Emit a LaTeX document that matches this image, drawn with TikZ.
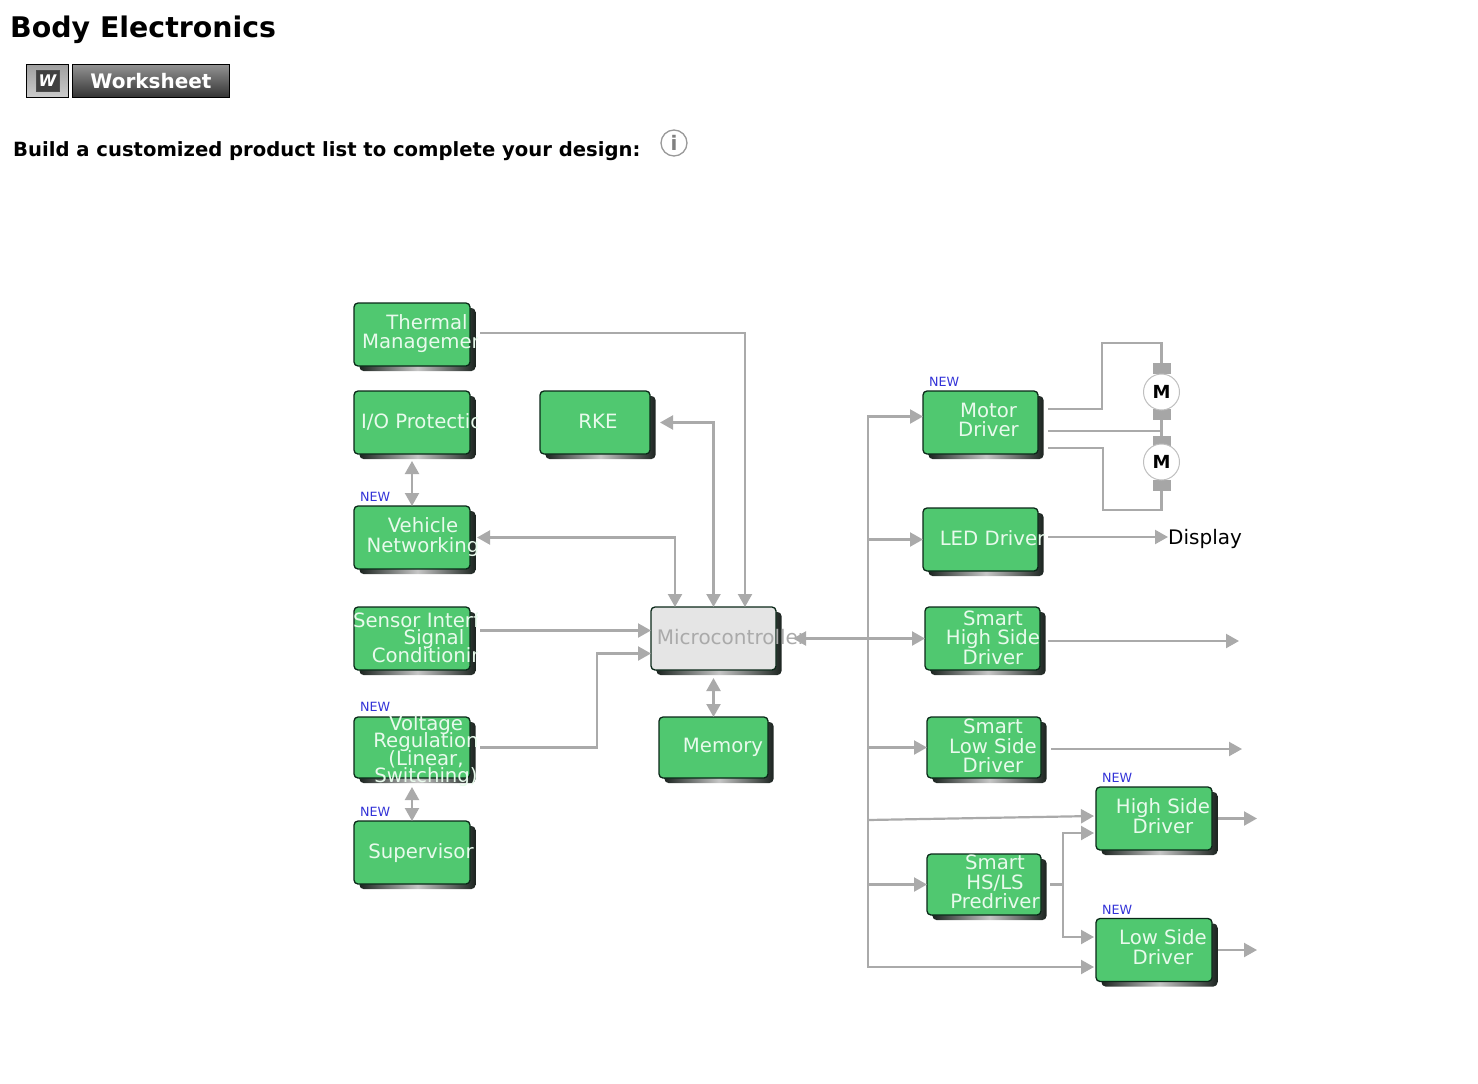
\documentclass[tikz,border=0pt]{standalone}
\usepackage{fontspec}
\setmainfont{DejaVu Sans}
\usetikzlibrary{arrows.meta, positioning}
\definecolor{blockgreen}{RGB}{80,200,112}
\definecolor{blockline}{RGB}{10,40,24}
\definecolor{shadowdark}{RGB}{28,36,32}
\definecolor{microgray}{RGB}{229,229,229}
\definecolor{wiregray}{RGB}{170,170,170}
\definecolor{labelgreen}{RGB}{232,250,236}
\definecolor{newblue}{RGB}{50,50,215}
\setlength{\lineskiplimit}{-20pt}
\setlength{\normallineskiplimit}{-20pt}

\begin{document}
\begin{tikzpicture}[x=1pt, y=-1pt,
    node distance=25pt,
    block/.style={rectangle, rounded corners=4pt, draw=blockline, line width=1.3pt, fill=blockgreen, minimum width=116pt, minimum height=63pt, outer sep=0pt, inner sep=0pt,
      preaction={draw=none, left color=shadowdark, right color=shadowdark, middle color=gray!45, transform canvas={xshift=5.5pt, yshift=-5pt}}},
    blocktext/.style={align=center, inner sep=0pt, text=labelgreen, font=\fontsize{19.7}{19.5}\selectfont},
    tighttext/.style={blocktext, font=\fontsize{19.7}{17.5}\selectfont},
    newtag/.style={anchor=south west, inner sep=0pt, text=newblue, font=\fontsize{12.7}{13}\selectfont},
    wire/.style={draw=wiregray, line width=2.2pt},
    arrow/.style={wire, -{Triangle[length=13pt,width=14pt]}},
    twoway/.style={wire, {Triangle[length=13pt,width=14pt]}-{Triangle[length=13pt,width=14pt]}},
    motorcap/.style={rectangle, fill=gray!70, minimum width=18pt, minimum height=11pt, inner sep=0pt, outer sep=0pt},
    motorbody/.style={circle, draw=gray!50, line width=1pt, fill=white, minimum size=36pt, inner sep=0pt, font=\bfseries\fontsize{18}{18}\selectfont}
]
\useasboundingbox (0,0) rectangle (1478,1084);

% Page header
\node[anchor=west, inner sep=0pt, font=\bfseries\fontsize{28.4}{30}\selectfont] (title) at (10,29.5) {Body Electronics};
\node[rectangle, draw=black, line width=1.2pt, top color=gray!75, bottom color=gray!40, minimum width=42pt, minimum height=33pt, inner sep=0pt] (wordbtn) at (47.5,81) {};
\node[rectangle, draw=black!70, fill=black!75, minimum width=23pt, minimum height=21pt, inner sep=0pt, text=white, font=\bfseries\itshape\fontsize{16}{16}\selectfont] (wordicon) at (wordbtn) {W};
\node[rectangle, draw=black, line width=1.2pt, top color=gray!85, bottom color=black!80, minimum width=157pt, minimum height=33pt, inner sep=0pt, text=white, font=\bfseries\fontsize{20}{20}\selectfont] (worksheet) at (151,81) {Worksheet};
\node[anchor=west, inner sep=0pt, font=\bfseries\fontsize{19.6}{22}\selectfont] (buildline) at (13,151) {Build a customized product list to complete your design:};
\node[circle, draw=gray!80, line width=1.3pt, minimum size=26pt, inner sep=0pt, text=gray, font=\bfseries\fontsize{20}{20}\selectfont] (info) at (674,143) {i};

% Left column, its long labels are cut off at the shadow
\begin{scope}
\clip (340,290) rectangle (477,900);
\node[block] (thermal) at (412,334.5) {};
\node[blocktext, xshift=15pt, yshift=1pt] (thermaltext) at (thermal) {Thermal\\Management};
\node[block, below=of thermal] (protect) {};
\node[blocktext, xshift=16pt, yshift=1pt] (protecttext) at (protect) {I/O Protection};
\node[block, below=52pt of protect] (network) {};
\node[blocktext, xshift=11pt, yshift=0.5pt] (networktext) at (network) {Vehicle\\Networking};
\node[block, below=38pt of network] (sensor) {};
\node[tighttext, xshift=22pt, yshift=-1pt] (sensortext) at (sensor) {Sensor Interface\\Signal\hspace*{24pt}\\Conditioning};
\node[block, below=47pt of sensor, minimum height=61pt] (voltage) {};
\node[tighttext, xshift=14pt, yshift=-3.5pt] (voltagetext) at (voltage) {Voltage\\Regulation\\(Linear,\\Switching)};
\node[block, below=43pt of voltage] (supervisor) {};
\node[blocktext, xshift=9pt, yshift=-0.5pt] (supervisortext) at (supervisor) {Supervisor};
\end{scope}

% Middle column
\node[block, minimum width=110pt] (rke) at (595,422.5) {};
\node[blocktext, xshift=3pt, yshift=1pt] (rketext) at (rke) {RKE};
\node[block, minimum width=125pt, fill=microgray] (micro) at (713.5,638.5) {};
\node[blocktext, text=wiregray, xshift=18pt, yshift=1.5pt, font=\fontsize{20}{21}\selectfont] (microtext) at (micro) {Microcontroller};
\node[block, below=47pt of micro, minimum width=109pt, minimum height=61pt] (memory) {};
\node[blocktext, xshift=9.5pt, yshift=0.5pt] (memorytext) at (memory) {Memory};

% Right column
\node[block, minimum width=115pt] (motor) at (980.5,422.5) {};
\node[blocktext, xshift=8pt, yshift=2.5pt] (motortext) at (motor) {Motor\\Driver};
\node[block, below=54pt of motor, minimum width=115pt] (led) {};
\node[blocktext, xshift=12pt, yshift=1pt] (ledtext) at (led) {LED Driver};
\node[block, minimum width=115pt] (smarthigh) at (982.5,638.5) {};
\node[blocktext, xshift=10.5pt, yshift=1pt] (smarthightext) at (smarthigh) {Smart\\High Side\\Driver};
\node[block, below=47pt of smarthigh, xshift=1.5pt, minimum width=114pt, minimum height=61pt] (smartlow) {};
\node[blocktext, xshift=9pt, yshift=1.5pt] (smartlowtext) at (smartlow) {Smart\\Low Side\\Driver};
\node[block, below=76pt of smartlow, minimum width=114pt, minimum height=61pt] (predriver) {};
\node[blocktext, xshift=11pt, yshift=2.5pt] (predrivertext) at (predriver) {Smart\\HS/LS\\Predriver};
\node[block] (highside) at (1154,818.5) {};
\node[blocktext, xshift=9pt, yshift=2.5pt] (highsidetext) at (highside) {High Side\\Driver};
\node[block] (lowside) at (1154,950) {};
\node[blocktext, xshift=9pt, yshift=3pt] (lowsidetext) at (lowside) {Low Side\\Driver};

% NEW tags
\foreach \tagged/\up in {network/4pt, voltage/5pt, supervisor/4pt, motor/4pt, highside/4pt, lowside/4pt}
  \node[newtag] (new\tagged) at ([xshift=6pt,yshift=\up]\tagged.north west) {NEW};

% Motors
\node[motorcap] (captop) at (1161.5,368.5) {};
\node[motorcap] (capmid) at (1161.5,414) {};
\node[motorcap] (capmidlow) at (1161.5,441.5) {};
\node[motorcap] (capbottom) at (1161.5,485.5) {};
\node[motorbody] (motortop) at (1161.5,392) {M};
\node[motorbody] (motorbottom) at (1161.5,462) {M};
\node[anchor=west, inner sep=0pt, font=\fontsize{20}{20}\selectfont] (display) at (1168,538.5) {Display};

% Free ends and corners of the wires
\coordinate (outhigh) at (1239,641);
\coordinate (outlow) at (1242,749);
\coordinate (ouths) at (1257,818.5);
\coordinate (outls) at (1257,950);
\coordinate (busjoin) at (868,638.5);
\coordinate (bushigh) at (868,820);
\coordinate (predjoin) at (1063,884.5);
\coordinate (motorjoin) at (1161.5,431);
\coordinate (wiretop) at (1161.5,343);
\coordinate (wirebottom) at (1161.5,510);

% Inputs of the microcontroller
\draw[arrow] ([xshift=10pt,yshift=1.5pt]thermal.east) -| ([xshift=31.5pt]micro.north);
\draw[twoway] ([xshift=10pt]rke.east) -| (micro.north);
\draw[twoway] ([xshift=7pt]network.east) -| ([xshift=-38.5pt]micro.north);
\draw[arrow] ([xshift=10pt,yshift=8pt]sensor.east) -- ([yshift=8pt]micro.west);
\draw[arrow] ([xshift=10pt]voltage.east) -- ++(117,0) |- ([yshift=-15pt]micro.west);
\draw[twoway] ([yshift=-8pt]micro.south) -- (memory.north);
\draw[twoway] ([yshift=-7pt]protect.south) -- (network.north);
\draw[twoway] ([yshift=-9pt]voltage.south) -- (supervisor.north);

% Bus to the drivers
\draw[twoway] ([xshift=17pt]micro.east) -- (smarthigh.west);
\draw[arrow] (busjoin) |- ([yshift=6pt]motor.west);
\draw[arrow] (busjoin) |- (led.west);
\draw[arrow] (busjoin) |- (smartlow.west);
\draw[arrow] (busjoin) |- (predriver.west);
\draw[arrow] (busjoin) |- ([xshift=-2pt,yshift=-17pt]lowside.west);
\draw[arrow] (bushigh) -- ([xshift=-2pt,yshift=2.5pt]highside.west);

% Outputs of the drivers
\draw[wire] ([xshift=10pt,yshift=13.5pt]motor.east) -- ++(54,0) |- (wiretop) -- (captop);
\draw[wire] ([xshift=10pt,yshift=-8.5pt]motor.east) -- (motorjoin);
\draw[wire] (capmid) -- (capmidlow);
\draw[wire] ([xshift=10pt,yshift=-25.5pt]motor.east) -- ++(55,0) |- (wirebottom) -- (capbottom);
\draw[arrow] ([xshift=10pt,yshift=2.5pt]led.east) -- ([yshift=1.5pt]display.west);
\draw[arrow] ([xshift=8pt,yshift=-2.5pt]smarthigh.east) -- (outhigh);
\draw[arrow] ([xshift=10pt,yshift=-1.5pt]smartlow.east) -- (outlow);
\draw[arrow] ([xshift=6pt]highside.east) -- (ouths);
\draw[arrow] ([xshift=6pt]lowside.east) -- (outls);
\draw[wire] ([xshift=9pt]predriver.east) -- (predjoin);
\draw[arrow] (predjoin) |- ([xshift=-2pt,yshift=-14.5pt]highside.west);
\draw[arrow] (predjoin) |- ([xshift=-2pt,yshift=13pt]lowside.west);

\end{tikzpicture}
\end{document}
